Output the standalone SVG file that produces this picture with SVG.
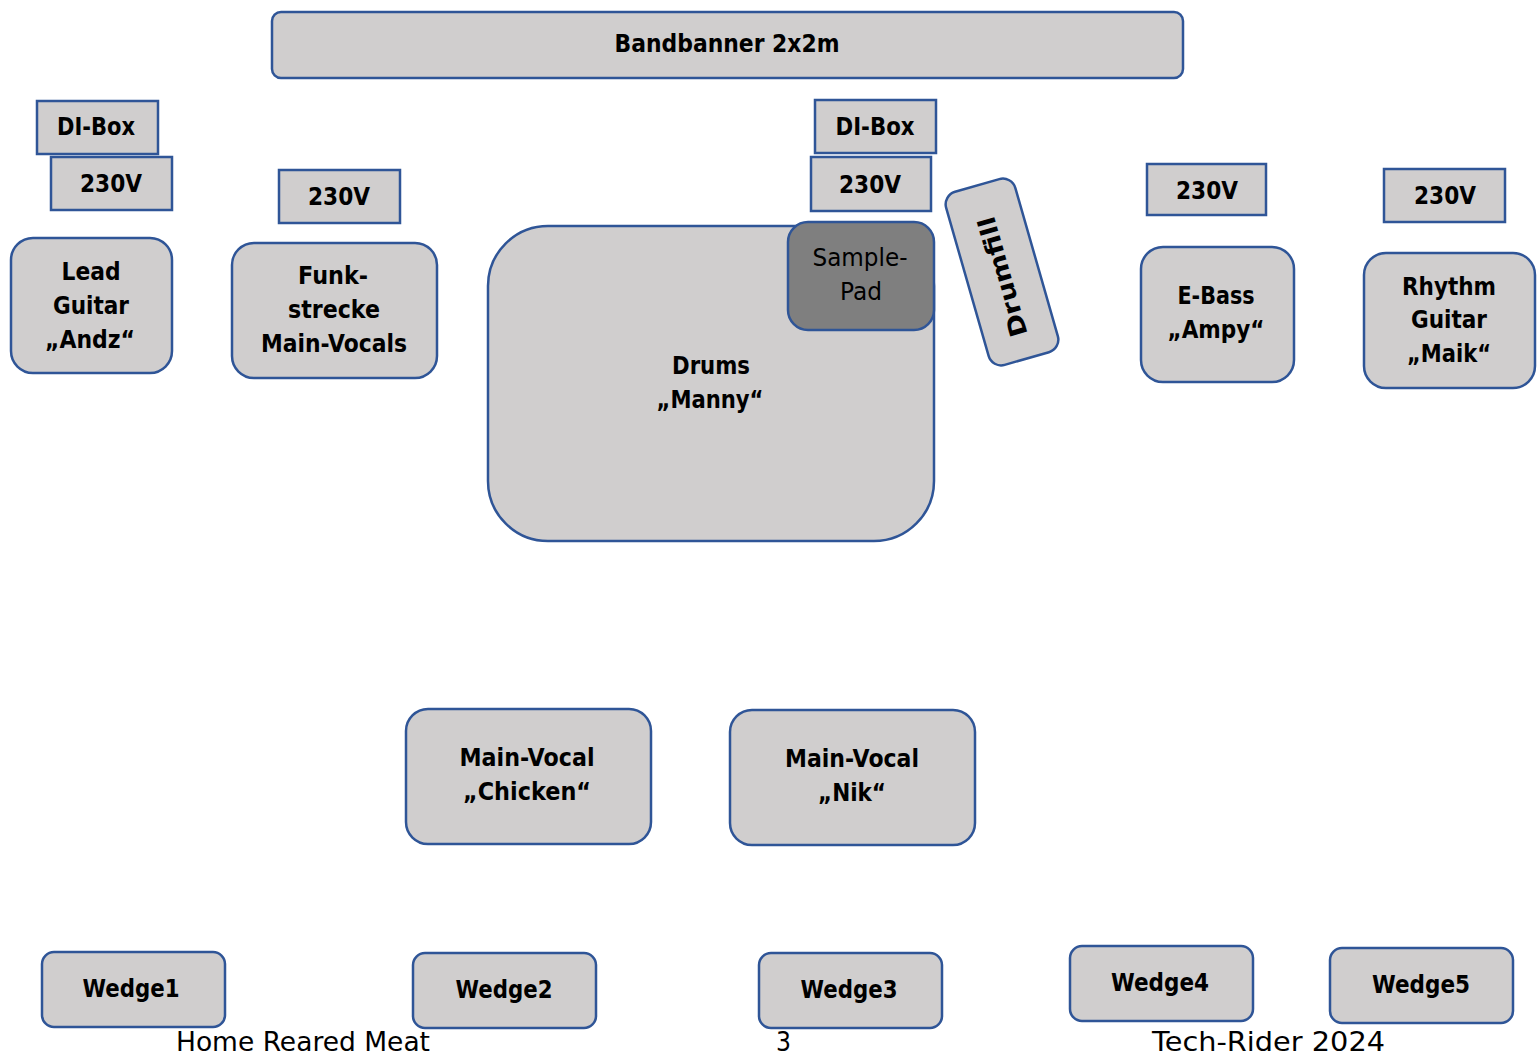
<svg xmlns="http://www.w3.org/2000/svg" width="1539" height="1055" viewBox="0 0 1539 1055">
<style>
.n{fill:#d0cece;stroke:#2f5597;stroke-width:2.5}
.p{fill:#7f7f7f;stroke:#2f5597;stroke-width:2.5}
.t{font-family:"DejaVu Sans","Liberation Sans",sans-serif;font-weight:bold;font-size:24px;fill:#000;text-anchor:middle}
.r{font-family:"DejaVu Sans","Liberation Sans",sans-serif;font-size:24px;fill:#000;text-anchor:middle}
.f{font-family:"DejaVu Sans","Liberation Sans",sans-serif;font-size:27px;fill:#000}
</style>
<rect width="1539" height="1055" fill="#fff"/>
<g id="connectors"></g>
<g id="bandbanner"><rect class="n" x="272" y="12" width="911" height="66" rx="9"/><text class="t" x="727" y="52" textLength="225" lengthAdjust="spacingAndGlyphs">Bandbanner 2x2m</text></g>
<g id="dibox-left"><rect class="n" x="37" y="101" width="121" height="53"/><text class="t" x="96" y="135" textLength="78" lengthAdjust="spacingAndGlyphs">DI-Box</text></g>
<g id="power-left"><rect class="n" x="51" y="157" width="121" height="53"/><text class="t" x="111" y="192" textLength="62" lengthAdjust="spacingAndGlyphs">230V</text></g>
<g id="power-funk"><rect class="n" x="279" y="170" width="121" height="53"/><text class="t" x="339" y="205" textLength="62" lengthAdjust="spacingAndGlyphs">230V</text></g>
<g id="lead-guitar"><rect class="n" x="11" y="238" width="161" height="135" rx="22"/>
<text class="t" x="91" y="280" textLength="59" lengthAdjust="spacingAndGlyphs">Lead</text>
<text class="t" x="91" y="314" textLength="76" lengthAdjust="spacingAndGlyphs">Guitar</text>
<text class="t" x="90" y="348" textLength="90" lengthAdjust="spacingAndGlyphs">„Andz“</text></g>
<g id="funkstrecke"><rect class="n" x="232" y="243" width="205" height="135" rx="22"/>
<text class="t" x="333" y="284" textLength="70" lengthAdjust="spacingAndGlyphs">Funk-</text>
<text class="t" x="334" y="318" textLength="92" lengthAdjust="spacingAndGlyphs">strecke</text>
<text class="t" x="334" y="352" textLength="146" lengthAdjust="spacingAndGlyphs">Main-Vocals</text></g>
<g id="drums"><rect class="n" x="488" y="226" width="446" height="315" rx="60"/>
<text class="t" x="711" y="374" textLength="78" lengthAdjust="spacingAndGlyphs">Drums</text>
<text class="t" x="710" y="408" textLength="107" lengthAdjust="spacingAndGlyphs">„Manny“</text></g>
<g id="dibox-mid"><rect class="n" x="815" y="100" width="121" height="53"/><text class="t" x="875" y="135" textLength="79" lengthAdjust="spacingAndGlyphs">DI-Box</text></g>
<g id="power-mid"><rect class="n" x="811" y="157" width="120" height="54"/><text class="t" x="870" y="193" textLength="62" lengthAdjust="spacingAndGlyphs">230V</text></g>
<g id="sample-pad"><rect class="p" x="788" y="222" width="146" height="108" rx="20"/>
<text class="r" x="860" y="266" textLength="95" lengthAdjust="spacingAndGlyphs">Sample-</text>
<text class="r" x="861" y="300" textLength="42" lengthAdjust="spacingAndGlyphs">Pad</text></g>
<g id="drumfill"><rect class="n" x="-36" y="-90" width="72" height="180" rx="13" transform="translate(1002,272) rotate(-16)"/>
<text class="t" transform="translate(1002,277) rotate(-106)" x="0" y="9" font-size="26" textLength="124" lengthAdjust="spacingAndGlyphs">Drumfill</text></g>
<g id="power-bass"><rect class="n" x="1147" y="164" width="119" height="51"/><text class="t" x="1207" y="199" textLength="62" lengthAdjust="spacingAndGlyphs">230V</text></g>
<g id="power-rhythm"><rect class="n" x="1384" y="169" width="121" height="53"/><text class="t" x="1445" y="204" textLength="62" lengthAdjust="spacingAndGlyphs">230V</text></g>
<g id="e-bass"><rect class="n" x="1141" y="247" width="153" height="135" rx="22"/>
<text class="t" x="1216" y="304" textLength="77" lengthAdjust="spacingAndGlyphs">E-Bass</text>
<text class="t" x="1216" y="338" textLength="97" lengthAdjust="spacingAndGlyphs">„Ampy“</text></g>
<g id="rhythm-guitar"><rect class="n" x="1364" y="253" width="171" height="135" rx="22"/>
<text class="t" x="1449" y="295" textLength="94" lengthAdjust="spacingAndGlyphs">Rhythm</text>
<text class="t" x="1449" y="328" textLength="76" lengthAdjust="spacingAndGlyphs">Guitar</text>
<text class="t" x="1449" y="362" textLength="84" lengthAdjust="spacingAndGlyphs">„Maik“</text></g>
<g id="vocal-chicken"><rect class="n" x="406" y="709" width="245" height="135" rx="22"/>
<text class="t" x="527" y="766" textLength="135" lengthAdjust="spacingAndGlyphs">Main-Vocal</text>
<text class="t" x="527" y="800" textLength="128" lengthAdjust="spacingAndGlyphs">„Chicken“</text></g>
<g id="vocal-nik"><rect class="n" x="730" y="710" width="245" height="135" rx="22"/>
<text class="t" x="852" y="767" textLength="134" lengthAdjust="spacingAndGlyphs">Main-Vocal</text>
<text class="t" x="852" y="801" textLength="68" lengthAdjust="spacingAndGlyphs">„Nik“</text></g>
<g id="wedge1"><rect class="n" x="42" y="952" width="183" height="75" rx="12"/><text class="t" x="131" y="997" textLength="97" lengthAdjust="spacingAndGlyphs">Wedge1</text></g>
<g id="wedge2"><rect class="n" x="413" y="953" width="183" height="75" rx="12"/><text class="t" x="504" y="998" textLength="97" lengthAdjust="spacingAndGlyphs">Wedge2</text></g>
<g id="wedge3"><rect class="n" x="759" y="953" width="183" height="75" rx="12"/><text class="t" x="849" y="998" textLength="97" lengthAdjust="spacingAndGlyphs">Wedge3</text></g>
<g id="wedge4"><rect class="n" x="1070" y="946" width="183" height="75" rx="12"/><text class="t" x="1160" y="991" textLength="98" lengthAdjust="spacingAndGlyphs">Wedge4</text></g>
<g id="wedge5"><rect class="n" x="1330" y="948" width="183" height="75" rx="12"/><text class="t" x="1421" y="993" textLength="98" lengthAdjust="spacingAndGlyphs">Wedge5</text></g>
<g id="footer">
<text class="f" x="176" y="1051" textLength="254" lengthAdjust="spacingAndGlyphs">Home Reared Meat</text>
<text class="f" x="776" y="1051" textLength="15" lengthAdjust="spacingAndGlyphs">3</text>
<text class="f" x="1152" y="1051" textLength="233" lengthAdjust="spacingAndGlyphs">Tech-Rider 2024</text>
</g>
</svg>
